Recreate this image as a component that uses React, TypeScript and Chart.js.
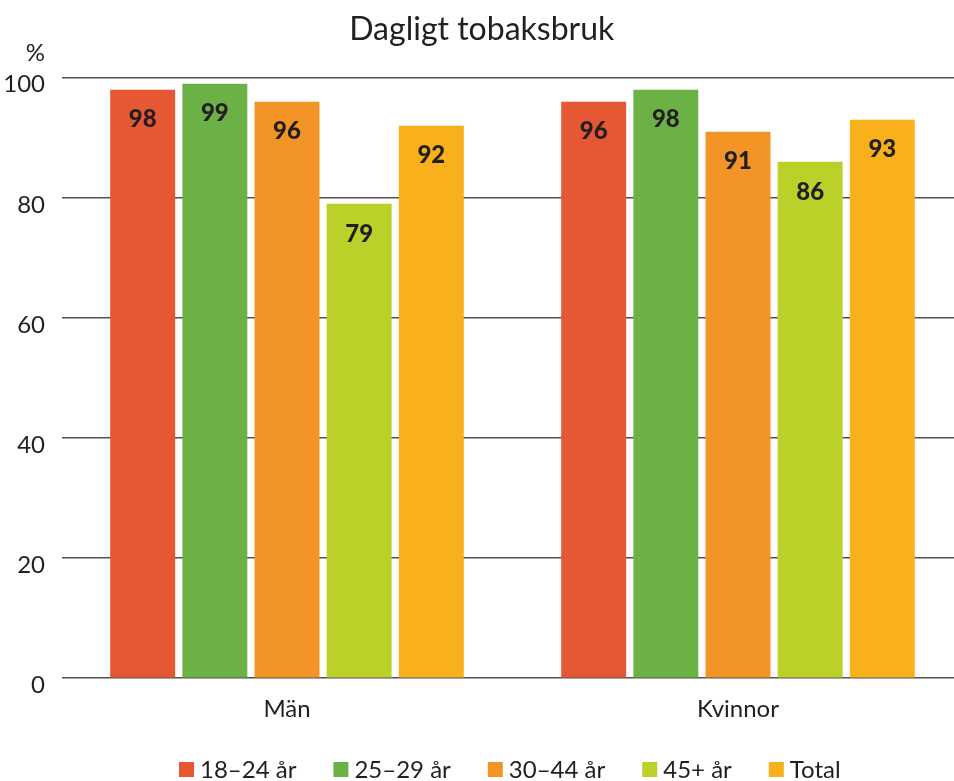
import React, { useEffect, useRef } from "react";
import { Chart, registerables } from "chart.js";

Chart.register(...registerables);

const categories = ["Män", "Kvinnor"];
const seriesLabels = ["18–24 år", "25–29 år", "30–44 år", "45+ år", "Total"];
const values1824 = [98, 96];
const values2529 = [99, 98];
const values3044 = [96, 91];
const values45plus = [79, 86];
const valuesTotal = [92, 93];
const seriesColors = ["#E65733", "#6CB145", "#F29426", "#BCD02A", "#F8B11A"];
const chartTitle = "Dagligt tobaksbruk";
const yUnit = "%";
const yMin = 0;
const yMax = 100;
const yStep = 20;

const FONT = "Lato, 'Open Sans', sans-serif";
const TEXT = "#231f20";

const extrasPlugin = {
  id: "extras",
  afterDatasetsDraw(chart: any) {
    const ctx = chart.ctx;
    ctx.save();
    // value labels
    ctx.font = `900 24px ${FONT}`;
    ctx.fillStyle = TEXT;
    ctx.textAlign = "center";
    ctx.textBaseline = "middle";
    chart.data.datasets.forEach((ds: any, i: number) => {
      const meta = chart.getDatasetMeta(i);
      meta.data.forEach((el: any, j: number) => {
        ctx.fillText(String(ds.data[j]), el.x, el.y + 30);
      });
    });
    // unit label
    ctx.font = `24px ${FONT}`;
    ctx.textAlign = "right";
    ctx.fillText(yUnit, 45, 53);
    // legend
    ctx.textAlign = "left";
    let x = 179;
    const boxTop = 762;
    chart.data.datasets.forEach((ds: any) => {
      ctx.fillStyle = ds.backgroundColor;
      ctx.fillRect(x, boxTop, 15, 15);
      ctx.fillStyle = TEXT;
      ctx.fillText(ds.label, x + 21, boxTop + 8);
      x += 21 + ctx.measureText(ds.label).width + 37;
    });
    ctx.restore();
  },
};

export default function App() {
  const ref = useRef<HTMLCanvasElement>(null);
  useEffect(() => {
    if (!ref.current) return;
    const seriesValues = [values1824, values2529, values3044, values45plus, valuesTotal];
    const chart = new Chart(ref.current, {
      type: "bar",
      data: {
        labels: categories,
        datasets: seriesLabels.map((label, i) => ({
          label,
          data: seriesValues[i],
          backgroundColor: seriesColors[i],
          borderWidth: 0,
        })),
      },
      options: {
        responsive: false,
        animation: false,
        layout: { padding: { left: 0, right: 6.5, top: 0, bottom: 48 } },
        plugins: {
          legend: { display: false },
          tooltip: { enabled: false },
          title: {
            display: true,
            text: chartTitle,
            color: TEXT,
            font: { family: FONT, size: 32, weight: "normal" },
            padding: { top: 10, bottom: 29.3 },
          },
        },
        scales: {
          x: {
            grid: { display: false },
            border: { display: false },
            ticks: { color: TEXT, font: { family: FONT, size: 24 }, padding: 9 },
          },
          y: {
            min: yMin,
            max: yMax,
            afterFit: (scale: any) => {
              scale.width = 61.5;
            },
            grid: { color: "#57514c", lineWidth: 1.5, drawTicks: false },
            border: { display: false },
            ticks: {
              stepSize: yStep,
              color: TEXT,
              font: { family: FONT, size: 24 },
              padding: 16.5,
              labelOffset: 7,
            },
          },
        },
      },
      plugins: [extrasPlugin],
    });
    return () => chart.destroy();
  }, []);
  return (
    <div
      style={{
        position: "fixed",
        left: 0,
        top: 0,
        width: 954,
        height: 781,
        overflow: "hidden",
        background: "#fff",
      }}
    >
      <canvas ref={ref} width={970} height={781} style={{ display: "block", width: 970, height: 781 }} />
    </div>
  );
}
